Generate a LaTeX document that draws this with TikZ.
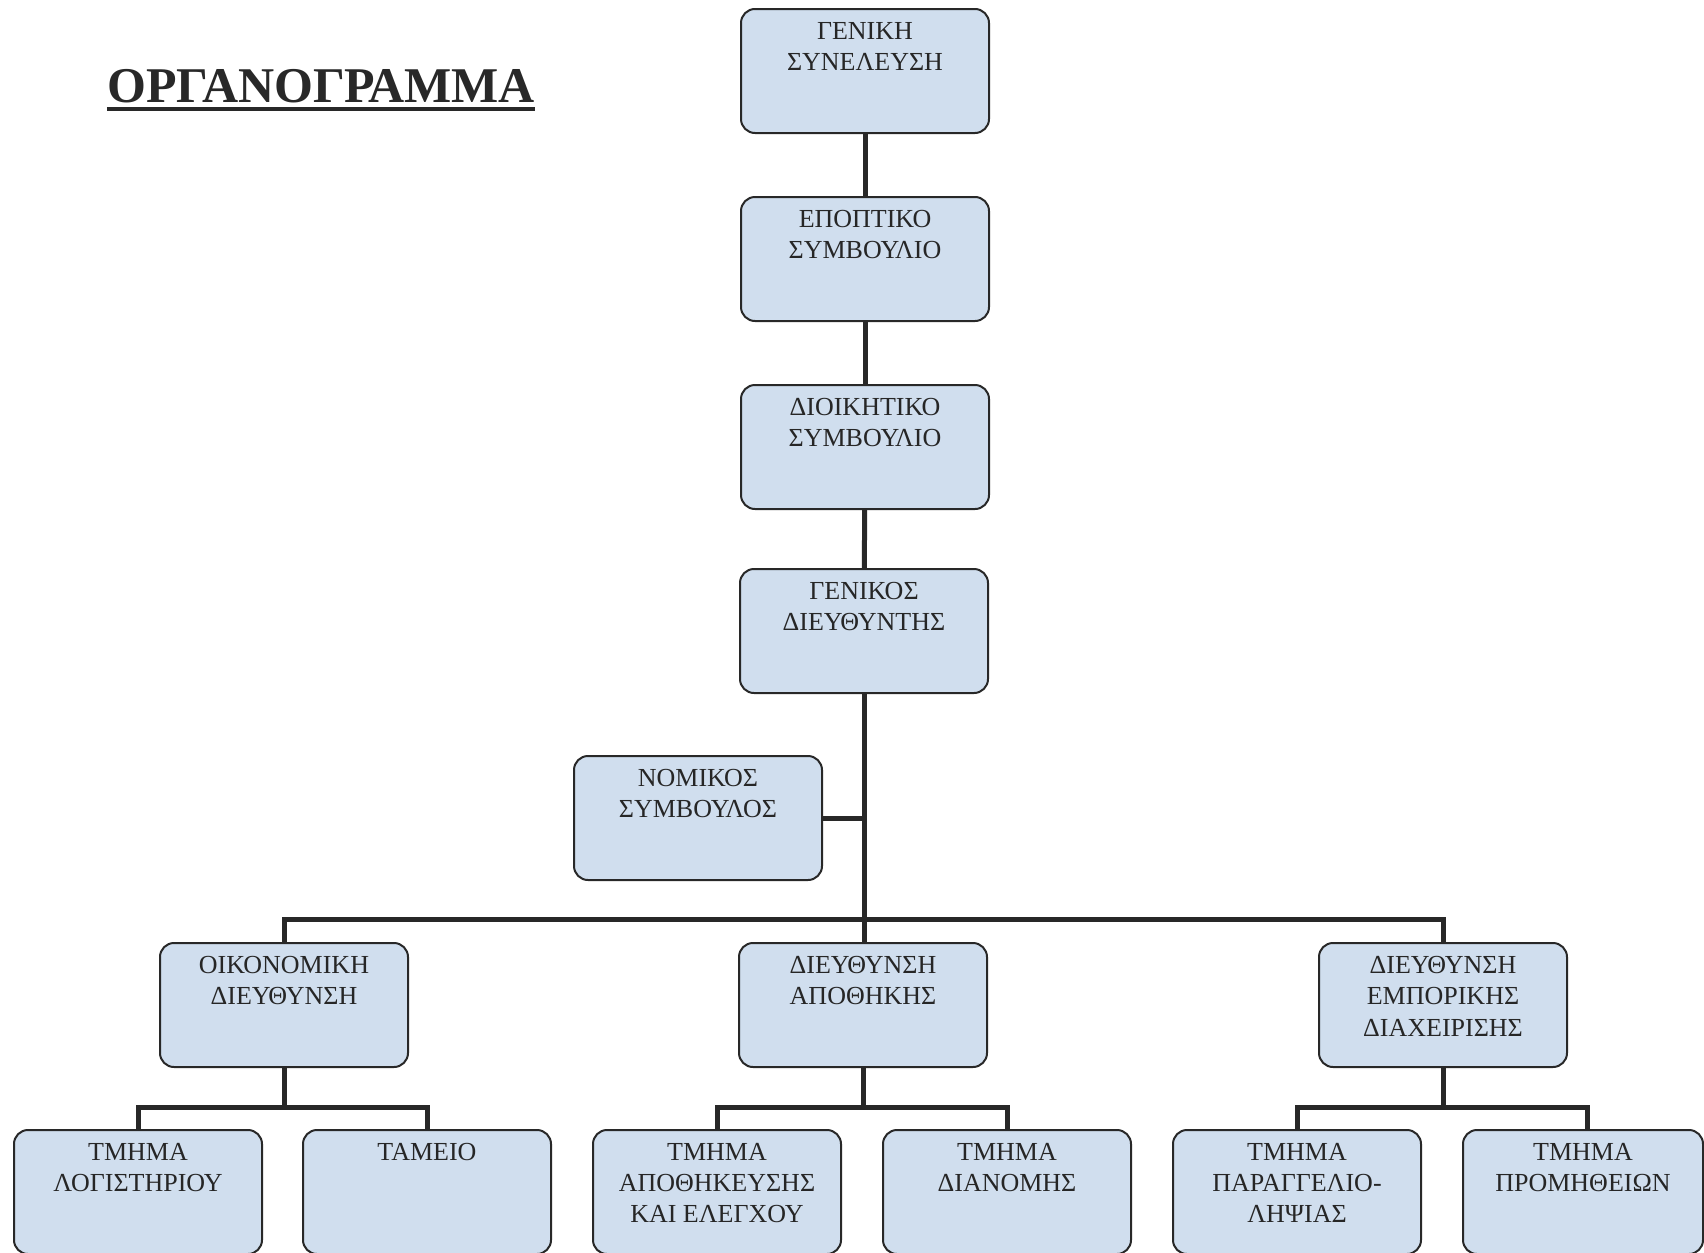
\documentclass[tikz,border=0pt]{standalone}
\usepackage{fontspec}
\setmainfont{Liberation Serif}
\definecolor{unitfill}{RGB}{208,222,238}
\definecolor{inkgray}{RGB}{40,40,40}
\tikzstyle{unit}=[draw=inkgray, line width=1pt, fill=unitfill, rounded corners=7pt, minimum width=124pt, minimum height=62pt, inner sep=0pt]
\tikzstyle{unitlabel}=[anchor=north, yshift=-7pt, inner sep=0pt, align=center, text=black!85, font=\fontsize{13}{15.6}\selectfont]
\tikzstyle{link}=[draw=inkgray, line width=2.5pt]

\begin{document}
\begin{tikzpicture}[x=0.5pt, y=-0.5pt]
    \useasboundingbox (0,0) rectangle (1704,1253);
% Title
    \node[anchor=base, inner sep=0pt, text=inkgray, font=\fontsize{25}{30}\selectfont\bfseries] (title) at (321,102) {ΟΡΓΑΝΟΓΡΑΜΜΑ};
    \draw[inkgray, line width=1.8pt] ([yshift=-3.5pt]title.base west) -- ([yshift=-3.5pt]title.base east);
% Boards
    \node[unit, label={[unitlabel]north:ΓΕΝΙΚΗ\\ΣΥΝΕΛΕΥΣΗ}] (gs) at (865,71) {};
    \node[unit, label={[unitlabel]north:ΕΠΟΠΤΙΚΟ\\ΣΥΜΒΟΥΛΙΟ}] (ep) at (865,259) {};
    \node[unit, label={[unitlabel]north:ΔΙΟΙΚΗΤΙΚΟ\\ΣΥΜΒΟΥΛΙΟ}] (dk) at (865,447) {};
    \node[unit, label={[unitlabel]north:ΓΕΝΙΚΟΣ\\ΔΙΕΥΘΥΝΤΗΣ}] (gd) at (864,631) {};
    \node[unit, label={[unitlabel]north:ΝΟΜΙΚΟΣ\\ΣΥΜΒΟΥΛΟΣ}] (ns) at (698,818) {};
% Directorates
    \node[unit, label={[unitlabel]north:ΟΙΚΟΝΟΜΙΚΗ\\ΔΙΕΥΘΥΝΣΗ}] (oik) at (284,1005) {};
    \node[unit, label={[unitlabel]north:ΔΙΕΥΘΥΝΣΗ\\ΑΠΟΘΗΚΗΣ}] (apo) at (863,1005) {};
    \node[unit, label={[unitlabel]north:ΔΙΕΥΘΥΝΣΗ\\ΕΜΠΟΡΙΚΗΣ\\ΔΙΑΧΕΙΡΙΣΗΣ}] (emp) at (1443,1005) {};
% Departments
    \node[unit, label={[unitlabel]north:ΤΜΗΜΑ\\ΛΟΓΙΣΤΗΡΙΟΥ}] (lo) at (138,1192) {};
    \node[unit, label={[unitlabel]north:ΤΑΜΕΙΟ}] (ta) at (427,1192) {};
    \node[unit, label={[unitlabel]north:ΤΜΗΜΑ\\ΑΠΟΘΗΚΕΥΣΗΣ\\ΚΑΙ ΕΛΕΓΧΟΥ}] (aa) at (717,1192) {};
    \node[unit, label={[unitlabel]north:ΤΜΗΜΑ\\ΔΙΑΝΟΜΗΣ}] (di) at (1007,1192) {};
    \node[unit, label={[unitlabel]north:ΤΜΗΜΑ\\ΠΑΡΑΓΓΕΛΙΟ-\\ΛΗΨΙΑΣ}] (pa) at (1297,1192) {};
    \node[unit, minimum width=120pt, label={[unitlabel]north:ΤΜΗΜΑ\\ΠΡΟΜΗΘΕΙΩΝ}] (pr) at (1583,1192) {};
% Chain of command
    \draw[link] (gs) -- (ep);
    \draw[link] (ep) -- (dk);
    \draw[link] (dk) -- (gd);
    \draw[link] (gd.south) -- (gd.south |- apo.north);
    \draw[link] (ns.east) -- (ns.east -| gd.south);
% Buses
    \coordinate (bus) at (864,919);
    \draw[link] (oik.north) |- (bus) -| (emp.north);
    \draw[link] (oik.south) -- ++(0,39) coordinate (oikbus);
    \draw[link] (lo.north) |- (oikbus) -| (ta.north);
    \draw[link] (apo.south) -- ++(0,39) coordinate (apobus);
    \draw[link] (aa.north) |- (apobus) -| (di.north);
    \draw[link] (emp.south) -- ++(0,39) coordinate (empbus);
    \draw[link] (pa.north) |- (empbus) -| ([xshift=2pt]pr.north);
\end{tikzpicture}
\end{document}
